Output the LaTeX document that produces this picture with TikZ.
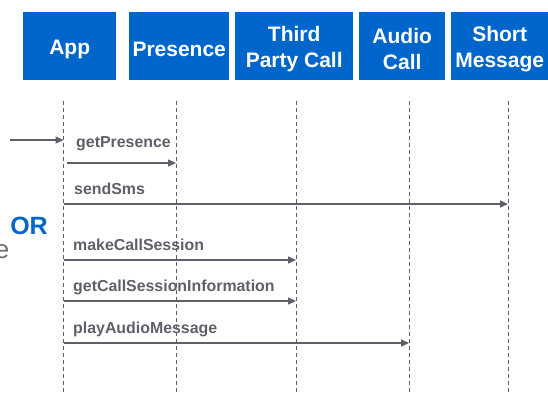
\documentclass[tikz,border=0pt]{standalone}
\usepackage{fontspec}
\setmainfont{Liberation Sans}
\usetikzlibrary{arrows.meta}
\definecolor{boxblue}{RGB}{0,102,204}
\definecolor{msggray}{RGB}{95,95,105}
\definecolor{lightgray}{RGB}{110,110,115}

\begin{document}
\begin{tikzpicture}[x=1pt, y=-1pt,
		actor/.style={fill=boxblue, inner sep=0pt, minimum height=68pt, anchor=north west},
		actortext/.style={text=white, font=\fontsize{21}{26}\selectfont\bfseries,
			align=center, inner sep=0pt, yshift=-3pt},
		life/.style={msggray, line width=0.9pt, dash pattern=on 4pt off 3pt},
		msg/.style={msggray, line width=1.3pt, -{Triangle[length=8pt,width=7pt]}},
		call/.style={anchor=base west, text=msggray, font=\fontsize{15.9}{18}\selectfont\bfseries, inner sep=0pt}
		]
	\useasboundingbox (0,0) rectangle (548,392);

	% participants
	\node [actor, minimum width=93pt, label={[actortext]center:App}] (app) at (23,12) {};
	\node [actor, minimum width=100pt, label={[actortext]center:Presence}] (pres) at (129,12) {};
	\node [actor, minimum width=118pt, label={[actortext]center:Third\\Party Call}] (tpc) at (235,12) {};
	\node [actor, minimum width=86pt, label={[actortext]center:Audio\\Call}] (audio) at (359,12) {};
	\node [actor, minimum width=97pt, label={[actortext]center:Short\\Message}] (sms) at (451,12) {};

	% lifelines
	\foreach \n/\x in {app/63.5, pres/176, tpc/296, audio/409, sms/508} {
		\coordinate (\n-top) at (\x,101);
		\coordinate (\n-bot) at (\x,392);
		\draw [life] (\n-top) -- (\n-bot);
	}

	\node [text=boxblue, font=\fontsize{25}{30}\selectfont\bfseries, inner sep=0pt] (or) at (29,226) {OR};
	\node [text=lightgray, font=\fontsize{26}{30}\selectfont, anchor=east, inner sep=0pt] (etail) at (9.5,252) {e};

	% messages
	\coordinate (src) at (10,140);
	\draw [msg] (src) -- (app-top |- src);

	\node [call] (getpres) at (76,147) {getPresence};
	\draw [msg] ([xshift=3.5pt]app-top |- 0,163) -- (pres-top |- 0,163);

	\node [call] (sendsms) at (74,194) {sendSms};
	\draw [msg] (app-top |- 0,204) -- (sms-top |- 0,204);

	\node [call] (makecall) at (73,250.5) {makeCallSession};
	\draw [msg] (app-top |- 0,260) -- (tpc-top |- 0,260);

	\node [call] (getinfo) at (73,291.5) {getCallSessionInformation};
	\draw [msg] (app-top |- 0,301) -- (tpc-top |- 0,301);

	\node [call] (playaudio) at (73,333.5) {playAudioMessage};
	\draw [msg] (app-top |- 0,343) -- (audio-top |- 0,343);
\end{tikzpicture}
\end{document}
